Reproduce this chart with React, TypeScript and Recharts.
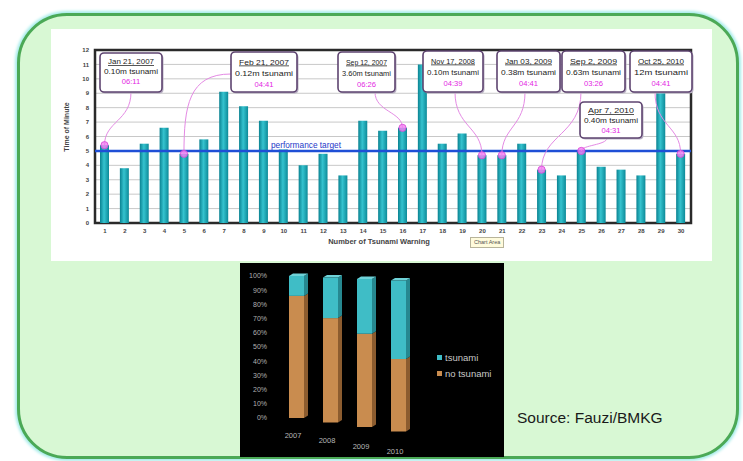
import React from "react";
import { Bar, BarChart, CartesianGrid, LabelList, Legend, ReferenceArea, ReferenceLine, XAxis, YAxis } from "recharts";

// warning-time chart
const warnings = ["1", "2", "3", "4", "5", "6", "7", "8", "9", "10", "11", "12", "13", "14", "15", "16", "17", "18", "19", "20", "21", "22", "23", "24", "25", "26", "27", "28", "29", "30"];
const minutes = [5.4, 3.8, 5.5, 6.6, 4.8, 5.8, 9.1, 8.1, 7.1, 5.1, 4.0, 4.8, 3.3, 7.1, 6.4, 6.6, 11.0, 5.5, 6.2, 4.7, 4.7, 5.5, 3.7, 3.3, 5.0, 3.9, 3.7, 3.3, 9.1, 4.8];
const minuteTicks = [0, 1, 2, 3, 4, 5, 6, 7, 8, 9, 10, 11, 12];
const targetMinutes = 5;

// callouts
const noteWarnings = [1, 5, 16, 20, 21, 23, 25, 30];
const noteDates = ["Jan 21, 2007", "Feb 21, 2007", "Sep 12, 2007", "Nov 17, 2008", "Jan 03, 2009", "Sep 2, 2009", "Apr 7, 2010", "Oct 25, 2010"];
const noteHeights = ["0.10m tsunami", "0.12m tsunami", "3.60m tsunami", "0.10m tsunami", "0.38m tsunami", "0.63m tsunami", "0.40m tsunami", "12m tsunami"];
const noteTimes = ["06:11", "04:41", "06:26", "04:39", "04:41", "03:26", "04:31", "04:41"];

// share chart
const years = ["2007", "2008", "2009", "2010"];
const tsunamiShare = [14, 28, 37, 52];
const noTsunamiShare = [86, 72, 63, 48];
const percentTicks = [0, 10, 20, 30, 40, 50, 60, 70, 80, 90, 100];

const warningData = warnings.map((w, i) => {
  const n = noteWarnings.indexOf(i + 1);
  return { warning: w, minutes: minutes[i], note: n >= 0 ? n : null };
});

const shareData = years.map((y, i) => ({ year: y, tsunami: tsunamiShare[i], noTsunami: noTsunamiShare[i] }));

// box placement in chart pixels (layout only)
const calloutLayout = [
  { left: 49, top: 24, width: 62, height: 39, fromLeft: false, anchorX: 80 },
  { left: 180, top: 23, width: 66, height: 40, fromLeft: true, anchorX: 180 },
  { left: 287, top: 23, width: 57, height: 40, fromLeft: false, anchorX: 324 },
  { left: 372, top: 22, width: 60, height: 41, fromLeft: false, anchorX: 404 },
  { left: 446, top: 22, width: 63, height: 41, fromLeft: false, anchorX: 474 },
  { left: 511, top: 22, width: 63, height: 41, fromLeft: false, anchorX: 530 },
  { left: 529, top: 73, width: 62, height: 36, fromLeft: false, anchorX: 556 },
  { left: 579, top: 22, width: 62, height: 41, fromLeft: false, anchorX: 604 }
];

const sans = "'Liberation Sans', Arial, sans-serif";

function Callout(props: any) {
  const { value } = props;
  if (value === null || value === undefined || value === "") return null;
  const vb = props.viewBox ?? props;
  const mx = vb.x + vb.width / 2;
  const my = vb.y;
  const box = calloutLayout[value];
  let path: string;
  if (box.fromLeft) {
    const ax = box.left;
    const ay = box.top + box.height * 0.55;
    path = `M${ax},${ay} C${ax - (ax - mx) * 0.9},${ay} ${mx},${my - (my - ay) * 0.6} ${mx},${my}`;
  } else {
    const ax = box.anchorX;
    const ay = box.top + box.height;
    path = `M${ax},${ay} C${ax},${ay + (my - ay) * 0.55} ${mx},${my - (my - ay) * 0.45} ${mx},${my}`;
  }
  const cx = box.left + box.width / 2;
  const short = box.height < 40;
  const first = short ? 11 : 12.5;
  const step = short ? 10 : 11.2;
  return (
    <g>
      <path d={path} fill="none" stroke="#e48ae4" strokeWidth={1} />
      <circle cx={mx} cy={my} r={3.6} fill="#f27ef2" fillOpacity={0.8} stroke="#d645d6" strokeWidth={0.8} />
      <rect x={box.left + 1.5} y={box.top + 1.5} width={box.width} height={box.height} rx={4} fill="#b9b1c4" />
      <rect x={box.left} y={box.top} width={box.width} height={box.height} rx={4} fill="#fff" stroke="#5e4470" strokeWidth={1.6} />
      <text x={cx} y={box.top + first} textAnchor="middle" fontSize={7.6} fontFamily={sans} fill="#222" textDecoration="underline" textLength={box.width - 16} lengthAdjust="spacingAndGlyphs">
        {noteDates[value]}
      </text>
      <text x={cx} y={box.top + first + step} textAnchor="middle" fontSize={7.4} fontFamily={sans} fill="#222" textLength={box.width - 8} lengthAdjust="spacingAndGlyphs">
        {noteHeights[value]}
      </text>
      <text x={cx} y={box.top + first + step * 2} textAnchor="middle" fontSize={7.6} fontFamily={sans} fill="#e326e3">
        {noteTimes[value]}
      </text>
    </g>
  );
}

function WarningChart() {
  return (
    <BarChart width={661} height={232} data={warningData} margin={{ top: 21, right: 21, bottom: 8, left: 14 }} barSize={9}>
      <defs>
        <linearGradient id="tealBar" x1="0" y1="0" x2="1" y2="0">
          <stop offset="0%" stopColor="#0a8291" />
          <stop offset="45%" stopColor="#35c3cf" />
          <stop offset="100%" stopColor="#0c8a98" />
        </linearGradient>
      </defs>
      <CartesianGrid vertical={false} stroke="#c8c8c8" />
      <XAxis
        dataKey="warning"
        interval={0}
        height={30}
        tickSize={3}
        tickMargin={3}
        tickLine={false}
        axisLine={false}
        tick={{ fontSize: 6, fill: "#444", fontWeight: 700, fontFamily: sans }}
        label={{
          content: (p: any) => (
            <text x={p.viewBox.x + p.viewBox.width / 2 - 14} y={p.viewBox.y + 21} textAnchor="middle" fontSize={7.5} fontWeight={700} fill="#444" fontFamily={sans}>
              Number of Tsunami Warning
            </text>
          )
        }}
      />
      <YAxis
        domain={[0, 12]}
        ticks={minuteTicks}
        interval={0}
        width={30}
        tickSize={3}
        tickMargin={3}
        tickLine={false}
        axisLine={false}
        tick={{ fontSize: 6, fill: "#444", fontWeight: 700, fontFamily: sans }}
        label={{
          content: (p: any) => (
            <text x={p.viewBox.x + 4} y={98} transform={`rotate(-90 ${p.viewBox.x + 4} 98)`} textAnchor="middle" fontSize={7} fontWeight={700} fill="#444" fontFamily={sans}>
              Time of Minute
            </text>
          )
        }}
      />
      <ReferenceArea y1={0} y2={12} fill="none" stroke="#2a2a2a" strokeWidth={2.5} ifOverflow="visible" />
      <ReferenceLine
        y={targetMinutes}
        stroke="#1f4fd6"
        strokeWidth={2.5}
        label={{
          content: (p: any) => (
            <text x={p.viewBox.x + 211} y={p.viewBox.y - 3} textAnchor="middle" fontSize={8.3} fill="#2438c8" fontFamily={sans}>
              performance target
            </text>
          )
        }}
      />
      <Bar dataKey="minutes" fill="url(#tealBar)" isAnimationActive={false}>
        <LabelList dataKey="note" content={Callout} />
      </Bar>
    </BarChart>
  );
}

const PLOT_TOP = 13;
const PLOT_H = 142;

function drift(py: number, i: number) {
  return i * (1.5 + (3 * (py - PLOT_TOP)) / PLOT_H);
}

function make3D(side: string, top: string | null) {
  return (p: any) => {
    const { x, y, width, height, fill, index } = p;
    const y0 = y + drift(y, index);
    const y1 = y + height + drift(y + height, index);
    const d = 4;
    const e = 2.5;
    return (
      <g>
        <polygon points={`${x + width},${y0} ${x + width + d},${y0 - e} ${x + width + d},${y1 - e} ${x + width},${y1}`} fill={side} />
        {top && <polygon points={`${x},${y0} ${x + d},${y0 - e} ${x + width + d},${y0 - e} ${x + width},${y0}`} fill={top} />}
        <rect x={x} y={y0} width={width} height={y1 - y0} fill={fill} />
      </g>
    );
  };
}

function YearTick(p: any) {
  return (
    <text x={p.x - 3} y={p.y + 12 + (p.index ?? 0) * 5.3} textAnchor="middle" fontSize={7.5} fill="#b8b8b8" fontFamily={sans}>
      {p.payload.value}
    </text>
  );
}

function ShareLegend(p: any) {
  const items = [...(p.payload ?? [])].reverse();
  return (
    <div style={{ fontFamily: sans, fontSize: 9.5, color: "#c8c8c8" }}>
      {items.map((it: any) => (
        <div key={it.value} style={{ display: "flex", alignItems: "center", height: 16 }}>
          <span style={{ width: 5, height: 5, background: it.color, marginRight: 3 }} />
          {it.value}
        </div>
      ))}
    </div>
  );
}

function ShareChart() {
  return (
    <BarChart width={264} height={194} data={shareData} margin={{ top: 13, right: 89, bottom: 9, left: 0 }} barSize={15}>
      <XAxis dataKey="year" interval={0} height={30} axisLine={false} tickLine={false} tick={YearTick} />
      <YAxis
        domain={[0, 100]}
        ticks={percentTicks}
        interval={0}
        width={39}
        tickSize={6}
        tickMargin={6}
        axisLine={false}
        tickLine={false}
        tickFormatter={(v: number) => `${v}%`}
        tick={{ fontSize: 7, fill: "#b0b0b0", fontFamily: sans }}
      />
      <Legend layout="vertical" align="center" verticalAlign="middle" wrapperStyle={{ left: 197, top: 86, width: 70 }} content={ShareLegend} />
      <Bar dataKey="noTsunami" name="no tsunami" stackId="s" fill="#c98c4f" shape={make3D("#8c5c2f", null)} isAnimationActive={false} />
      <Bar dataKey="tsunami" name="tsunami" stackId="s" fill="#3fbdc6" shape={make3D("#268890", "#6fd2d8")} isAnimationActive={false} />
    </BarChart>
  );
}

export default function App() {
  return (
    <div style={{ position: "relative", width: 743, height: 461, background: "#fff", overflow: "hidden" }}>
      <style>{"body{margin:0}"}</style>
      <div
        style={{
          position: "absolute",
          left: 17,
          top: 13,
          width: 716,
          height: 440,
          border: "3px solid #4ba956",
          borderRadius: 50,
          background: "#d8f8d4",
          boxShadow: "0 0 3px 2px #a6ecea"
        }}
      />
      <div style={{ position: "absolute", left: 51, top: 29, width: 661, height: 232, background: "#fff" }}>
        <WarningChart />
      </div>
      <div
        style={{
          position: "absolute",
          left: 470,
          top: 237,
          padding: "0 3px",
          height: 9,
          lineHeight: "9px",
          fontSize: 5.5,
          fontFamily: sans,
          color: "#555",
          background: "#fffbdc",
          border: "1px solid #b8b49a"
        }}
      >
        Chart Area
      </div>
      <div style={{ position: "absolute", left: 240, top: 263, width: 264, height: 194, background: "#000" }}>
        <ShareChart />
      </div>
      <div style={{ position: "absolute", left: 517, top: 410, fontFamily: sans, fontSize: 15.5, lineHeight: 1, color: "#1a1a1a" }}>
        Source: Fauzi/BMKG
      </div>
    </div>
  );
}
